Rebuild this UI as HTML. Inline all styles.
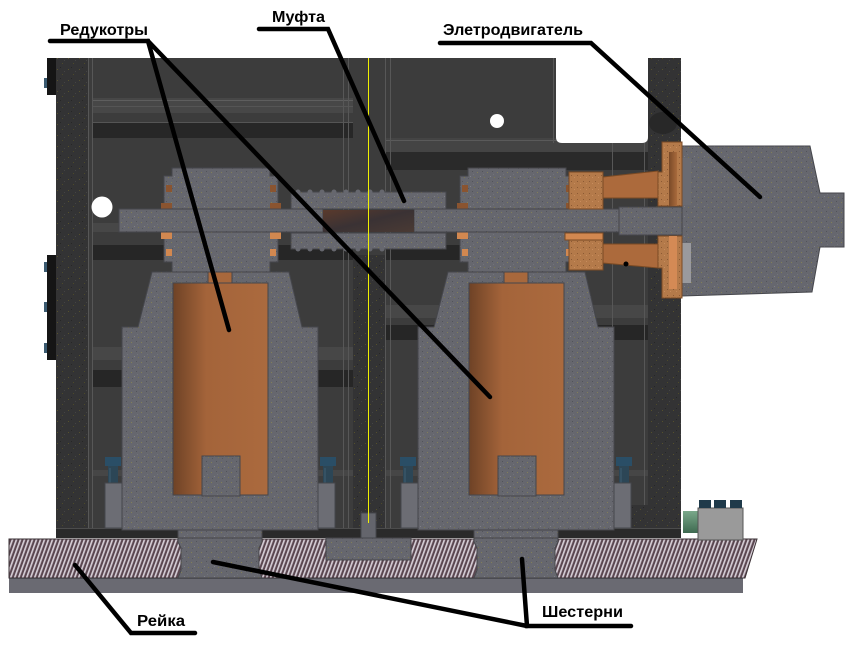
<!DOCTYPE html>
<html><head><meta charset="utf-8"><style>
html,body{margin:0;padding:0;background:#fff;}
svg{display:block}
text{font-family:"Liberation Sans",sans-serif;font-weight:bold;font-size:16px;fill:#000}
</style></head><body>
<svg width="850" height="663" viewBox="0 0 850 663" xmlns="http://www.w3.org/2000/svg">
<defs>
<pattern id="g" width="10" height="10" patternUnits="userSpaceOnUse">
<rect width="10" height="10" fill="#66676e"/>
<rect x="1" y="2" width="1" height="1" fill="#827f58"/>
<rect x="6" y="1" width="1" height="1" fill="#52535a"/>
<rect x="4" y="6" width="1" height="1" fill="#7e7f86"/>
<rect x="8" y="7" width="1" height="1" fill="#7a774f"/>
<rect x="2" y="8" width="1" height="1" fill="#55565d"/>
<rect x="7" y="4" width="1" height="1" fill="#72737a"/>
</pattern>
<pattern id="d" width="11" height="11" patternUnits="userSpaceOnUse">
<rect width="11" height="11" fill="#333334"/>
<rect x="2" y="3" width="1" height="1" fill="#55502c"/>
<rect x="7" y="8" width="1" height="1" fill="#4d4a2a"/>
<rect x="5" y="1" width="1" height="1" fill="#262626"/>
<rect x="9" y="5" width="1" height="1" fill="#444"/>
</pattern>
<pattern id="c" width="6" height="6" patternUnits="userSpaceOnUse">
<rect width="6" height="6" fill="#b47a4a"/>
<rect x="1" y="1" width="1" height="1" fill="#8c5a34"/>
<rect x="4" y="3" width="1" height="1" fill="#c88c5c"/>
</pattern>
<pattern id="h" width="4" height="60" patternUnits="userSpaceOnUse" patternTransform="skewX(-20)">
<rect width="4" height="60" fill="#5a4650"/><rect width="1.8" height="60" fill="#d4ccd4"/>
</pattern>
<linearGradient id="cu" x1="0" x2="1" y1="0" y2="0">
<stop offset="0" stop-color="#6e4226"/><stop offset="0.35" stop-color="#a4643a"/><stop offset="1" stop-color="#ab6a3e"/>
</linearGradient>
<linearGradient id="rust" x1="0" x2="1" y1="0" y2="1">
<stop offset="0" stop-color="#5a3a2c"/><stop offset="0.5" stop-color="#3a3234"/><stop offset="1" stop-color="#4a3a34"/>
</linearGradient>
<linearGradient id="fl" x1="0" x2="1"><stop offset="0" stop-color="#7a4a28"/><stop offset="1" stop-color="#a86a3c"/></linearGradient>
<linearGradient id="grn" x1="0" x2="0" y1="0" y2="1"><stop offset="0" stop-color="#7aa88a"/><stop offset="1" stop-color="#3e6a50"/></linearGradient>
</defs>

<!-- frame background -->
<rect x="56" y="58" width="625" height="480" fill="#3c3c3c"/>
<!-- rails -->
<g>
<rect x="92" y="98" width="261" height="15" fill="#474747"/>
<line x1="92" y1="100.5" x2="353" y2="100.5" stroke="#5e5e5e"/>
<line x1="92" y1="106.5" x2="353" y2="106.5" stroke="#555"/>
<rect x="92" y="122" width="261" height="16" fill="#272727"/>
<line x1="92" y1="122.5" x2="353" y2="122.5" stroke="#555"/>
<rect x="385" y="138" width="275" height="14" fill="#444"/>
<line x1="385" y1="140.5" x2="660" y2="140.5" stroke="#5a5a5a"/>
<rect x="385" y="152" width="275" height="18" fill="#2a2a2a"/>
<rect x="92" y="223" width="261" height="9" fill="#474747"/>
<rect x="92" y="245" width="261" height="15" fill="#262626"/>
<rect x="385" y="223" width="263" height="9" fill="#474747"/>
<rect x="385" y="245" width="263" height="15" fill="#262626"/>
<rect x="92" y="347" width="261" height="13" fill="#474747"/>
<rect x="92" y="370" width="261" height="17" fill="#262626"/>
<rect x="385" y="305" width="263" height="13" fill="#474747"/>
<rect x="385" y="325" width="263" height="15" fill="#262626"/>
<rect x="92" y="470" width="261" height="6" fill="#464646"/>
<rect x="385" y="470" width="263" height="6" fill="#464646"/>
</g>
<!-- vertical frame lines -->
<g stroke="#575757" stroke-width="1">
<line x1="88.5" y1="58" x2="88.5" y2="530"/><line x1="92.5" y1="58" x2="92.5" y2="530"/>
<line x1="343.5" y1="58" x2="343.5" y2="530"/><line x1="348.5" y1="58" x2="348.5" y2="530"/>
<line x1="385.5" y1="58" x2="385.5" y2="530"/><line x1="390.5" y1="58" x2="390.5" y2="530"/>
<line x1="553.5" y1="58" x2="553.5" y2="143"/>
<line x1="612.5" y1="143" x2="612.5" y2="530"/><line x1="644.5" y1="143" x2="644.5" y2="530"/>
</g>
<!-- white notch -->
<path d="M556,58 H648 V137 Q648,143 642,143 H562 Q556,143 556,137 Z" fill="#fff"/>
<!-- columns -->
<rect x="56" y="58" width="32" height="480" fill="url(#d)"/>
<rect x="353" y="255" width="32" height="275" fill="url(#d)"/>
<rect x="648" y="58" width="33" height="480" fill="url(#d)"/>
<rect x="629" y="505" width="20" height="33" fill="url(#d)"/>
<ellipse cx="663" cy="123" rx="14" ry="11" fill="#282828"/>
<!-- left black bars and tabs -->
<rect x="47" y="58" width="9" height="37" fill="#151515"/>
<rect x="47" y="255" width="9" height="105" fill="#151515"/>
<g fill="#3a5a70">
<rect x="44" y="78" width="3" height="10"/><rect x="44" y="262" width="3" height="10"/>
<rect x="44" y="302" width="3" height="10"/><rect x="44" y="343" width="3" height="10"/>
</g>
<!-- frame bottom bar -->
<rect x="56" y="528" width="625" height="10" fill="#2a2a2a"/>
<line x1="56" y1="528.5" x2="681" y2="528.5" stroke="#4c4c4c"/>

<!-- bolts -->
<g>
<g id="bolt"><rect x="105" y="457" width="16" height="9" fill="#2a4e66"/><rect x="108" y="466" width="10" height="36" fill="#2c4656"/><line x1="110" y1="468" x2="110" y2="500" stroke="#3e5e72"/><rect x="106" y="502" width="14" height="4" fill="#555"/></g>
<use href="#bolt" x="215"/>
<use href="#bolt" x="295"/>
<use href="#bolt" x="511"/>
</g>

<!-- reducers -->
<g id="red" stroke="#45464b" stroke-width="1">
<!-- body -->
<polygon points="152,272 289,272 302,327 318,327 318,530 122,530 122,327 138,327" fill="url(#g)"/>
<rect x="105" y="483" width="17" height="45" fill="#6c6d74"/>
<rect x="318" y="483" width="17" height="45" fill="#6c6d74"/>
<!-- head -->
<polygon points="172,168 270,168 270,176 278,176 278,262 270,262 270,272 172,272 172,262 164,262 164,176 172,176" fill="url(#g)"/>
<!-- head copper bits -->
<rect x="166" y="185" width="6" height="7" fill="#8a5430" stroke="none"/>
<rect x="161" y="203" width="11" height="7" fill="#8a5430" stroke="none"/>
<rect x="161" y="232" width="11" height="7" fill="#d28850" stroke="none"/>
<rect x="166" y="249" width="6" height="7" fill="#d28850" stroke="none"/>
<rect x="270" y="185" width="6" height="7" fill="#8a5430" stroke="none"/>
<rect x="270" y="203" width="11" height="7" fill="#8a5430" stroke="none"/>
<rect x="270" y="232" width="11" height="7" fill="#d28850" stroke="none"/>
<rect x="270" y="249" width="6" height="7" fill="#d28850" stroke="none"/>
<!-- copper cylinder -->
<rect x="208" y="272" width="24" height="11" fill="#a8683c"/>
<rect x="173" y="283" width="95" height="212" fill="url(#cu)"/>
<rect x="202" y="456" width="38" height="40" fill="url(#g)"/>
<!-- gear stem -->
<path d="M178,530 H262 V542 L259,548 V570 L262,578 H178 L181,570 V548 L178,542 Z" fill="url(#g)"/>
</g>
<use href="#red" x="296"/>

<!-- shafts -->
<rect x="119" y="209" width="204" height="23" fill="url(#g)" stroke="#45464b"/>
<rect x="414" y="209" width="205" height="23" fill="url(#g)" stroke="#45464b"/>
<!-- coupling -->
<g stroke="#45464b">
<rect x="291" y="192" width="155" height="17" fill="url(#g)"/>
<rect x="291" y="233" width="155" height="16" fill="url(#g)"/>
</g>
<g fill="#66676e">
<circle cx="298" cy="192" r="2.5"/><circle cx="310" cy="192" r="2.5"/><circle cx="322" cy="192" r="2.5"/>
<circle cx="334" cy="192" r="2.5"/><circle cx="346" cy="192" r="2.5"/><circle cx="358" cy="192" r="2.5"/>
<circle cx="370" cy="192" r="2.5"/><circle cx="382" cy="192" r="2.5"/>
<circle cx="298" cy="249" r="2.5"/><circle cx="310" cy="249" r="2.5"/><circle cx="322" cy="249" r="2.5"/>
<circle cx="334" cy="249" r="2.5"/><circle cx="346" cy="249" r="2.5"/><circle cx="358" cy="249" r="2.5"/>
<circle cx="370" cy="249" r="2.5"/><circle cx="382" cy="249" r="2.5"/>
</g>
<rect x="323" y="210" width="91" height="22" fill="url(#rust)"/>

<!-- center bottom piece -->
<rect x="361" y="513" width="15" height="25" fill="#64656c" stroke="#45464b"/>

<!-- motor -->
<path d="M682,146 H810 L820,193 H844 V247 H820 L812,292 L682,296 Z" fill="url(#g)" stroke="#45464b"/>
<rect x="682" y="158" width="9" height="47" fill="#6a6b72"/>
<rect x="682" y="243" width="9" height="40" fill="#9a9a9e"/>
<rect x="619" y="207" width="63" height="28" fill="url(#g)" stroke="#45464b"/>
<g stroke="#7a4a24" stroke-width="1">
<polygon points="662,142 682,142 682,206 658,206 658,172 662,172" fill="url(#c)"/>
<rect x="669" y="152" width="8" height="54" fill="url(#fl)" stroke="none"/>
<polygon points="658,236 682,236 682,298 662,298 662,268 658,268" fill="url(#c)"/>
<rect x="669" y="236" width="8" height="53" fill="#d48a55" stroke="none"/>
<rect x="569" y="172" width="34" height="37" fill="url(#c)"/>
<polygon points="603,177 658,171 658,198 603,198" fill="#ac6a3c"/>
<rect x="565" y="233" width="38" height="7" fill="#d28850"/>
<rect x="569" y="240" width="34" height="30" fill="url(#c)"/>
<polygon points="603,244 658,244 658,268 603,263" fill="#ac6a3c"/>
</g>
<circle cx="626" cy="264" r="2.5" fill="#000"/>

<!-- rack -->
<polygon points="9,539 757,539 745,578 9,578" fill="url(#h)" stroke="#3a3034"/>
<g stroke="#45464b">
<path d="M178,538 H262 V542 L259,548 V570 L262,578 H178 L181,570 V548 L178,542 Z" fill="url(#g)"/>
<path d="M474,538 H558 V542 L555,548 V570 L558,578 H474 L477,570 V548 L474,542 Z" fill="url(#g)"/>
<rect x="326" y="538" width="85" height="22" fill="url(#g)"/>
</g>
<rect x="9" y="578" width="734" height="15" fill="#6a6a72"/>
<line x1="9" y1="578.5" x2="743" y2="578.5" stroke="#4a4a50"/>

<!-- device -->
<rect x="683" y="511" width="16" height="22" fill="url(#grn)"/>
<rect x="698" y="508" width="45" height="32" fill="#9a9a9a" stroke="#555"/>
<g fill="#1f3a4a">
<rect x="699" y="500" width="12" height="8"/><rect x="714" y="500" width="12" height="8"/><rect x="730" y="500" width="12" height="8"/>
</g>

<!-- yellow line -->
<line x1="368.5" y1="58" x2="368.5" y2="523" stroke="#f0f000" stroke-width="1"/>

<!-- holes -->
<circle cx="102" cy="207" r="10.5" fill="#fff"/>
<circle cx="497" cy="121" r="7" fill="#fff"/>

<!-- leaders -->
<g stroke="#000" stroke-width="4.5" stroke-linecap="round" fill="none">
<polyline points="50,41 148,41 229,330"/>
<line x1="148" y1="41" x2="490" y2="397"/>
<polyline points="259,29 328,29 404,201"/>
<polyline points="440,43 591,43 760,197"/>
<polyline points="195,633 131,633 75,565"/>
<polyline points="631,626 527,626 522,559"/>
<line x1="527" y1="626" x2="213" y2="562"/>
</g>

<!-- labels -->
<text x="60" y="35" textLength="88" lengthAdjust="spacingAndGlyphs">Редукотры</text>
<text x="272" y="22" textLength="53" lengthAdjust="spacingAndGlyphs">Муфта</text>
<text x="443" y="35" textLength="140" lengthAdjust="spacingAndGlyphs">Элетродвигатель</text>
<text x="137" y="626" textLength="48" lengthAdjust="spacingAndGlyphs">Рейка</text>
<text x="542" y="617" textLength="81" lengthAdjust="spacingAndGlyphs">Шестерни</text>
</svg>
</body></html>
